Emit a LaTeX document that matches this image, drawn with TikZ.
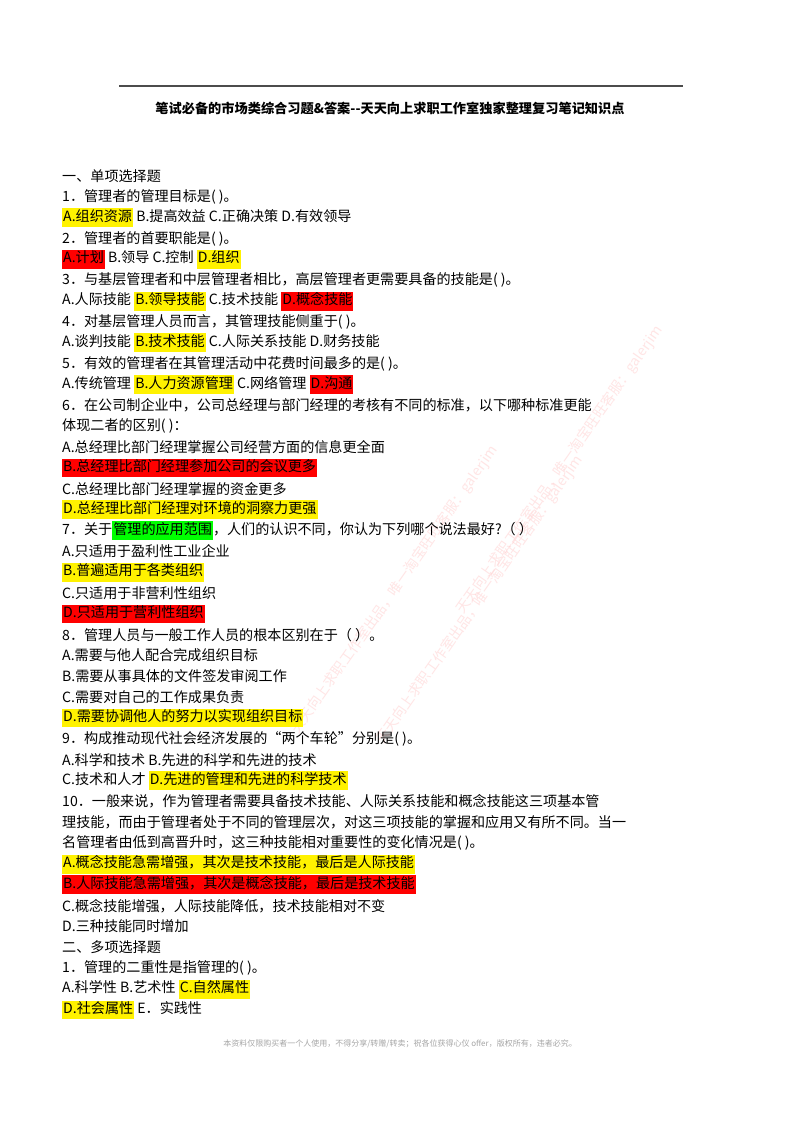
\documentclass[tikz,border=0pt]{standalone}
\usepackage{fontspec}
\setmainfont{Liberation Serif}
\newfontfamily\cjk{Noto Sans CJK SC}
\newcommand\hly[1]{{\setlength\fboxsep{1pt}\colorbox{yellow}{\strut #1}}}
\newcommand\hlr[1]{{\setlength\fboxsep{1pt}\colorbox{red}{\strut #1}}}
\newcommand\hlg[1]{{\setlength\fboxsep{1pt}\colorbox{green}{\strut #1}}}
\tikzset{
  txt/.style={anchor=west, inner sep=0pt, font=\cjk\fontsize{14.1}{16}\selectfont},
  wmark/.style={rotate=55, text=red!20, opacity=0.5, inner sep=0pt, font=\cjk\fontsize{14}{16}\selectfont}
}
\begin{document}
\begin{tikzpicture}[x=1pt, y=-1pt]
		\useasboundingbox (0,0) rectangle (800,1132);
		\fill[white] (0,0) rectangle (800,1132);
		% watermark
		\node[wmark] (wm1) at (395,590) {天天向上求职工作室出品，唯一淘宝旺旺客服：galerjim};
		\node[wmark] (wm2) at (480,600) {天天向上求职工作室出品，唯一淘宝旺旺客服：galerjim};
		\node[wmark] (wm3) at (560,470) {天天向上求职工作室出品，唯一淘宝旺旺客服：galerjim};
		% header
		\coordinate (ruleL) at (119,86);
		\coordinate (ruleR) at (683,86);
		\draw[line width=1.2pt, black!70] (ruleL) -- (ruleR);
		\node[font=\cjk\bfseries\fontsize{13.2}{15}\selectfont, inner sep=0pt] (title) at (390,108) {笔试必备的市场类综合习题\&答案--天天向上求职工作室独家整理复习笔记知识点};
		% questions
		\node[txt] (l1) at (62,176) {一、单项选择题};
		\node[txt] (l2) at (62,196.9) {1．管理者的管理目标是( )。};
		\node[txt] (l3) at (62,217.7) {\hly{A.组织资源} B.提高效益 C.正确决策 D.有效领导};
		\node[txt] (l4) at (62,238.6) {2．管理者的首要职能是( )。};
		\node[txt] (l5) at (62,259.4) {\hlr{A.计划} B.领导 C.控制 \hly{D.组织}};
		\node[txt] (l6) at (62,280.3) {3．与基层管理者和中层管理者相比，高层管理者更需要具备的技能是( )。};
		\node[txt] (l7) at (62,301.1) {A.人际技能 \hly{B.领导技能} C.技术技能 \hlr{D.概念技能}};
		\node[txt] (l8) at (62,322) {4．对基层管理人员而言，其管理技能侧重于( )。};
		\node[txt] (l9) at (62,342.8) {A.谈判技能 \hly{B.技术技能} C.人际关系技能 D.财务技能};
		\node[txt] (l10) at (62,363.7) {5．有效的管理者在其管理活动中花费时间最多的是( )。};
		\node[txt] (l11) at (62,384.5) {A.传统管理 \hly{B.人力资源管理} C.网络管理 \hlr{D.沟通}};
		\node[txt] (l12) at (62,405.4) {6．在公司制企业中，公司总经理与部门经理的考核有不同的标准，以下哪种标准更能};
		\node[txt] (l13) at (62,426.2) {体现二者的区别( )：};
		\node[txt] (l14) at (62,447.1) {A.总经理比部门经理掌握公司经营方面的信息更全面};
		\node[txt] (l15) at (62,467.9) {\hlr{B.总经理比部门经理参加公司的会议更多}};
		\node[txt] (l16) at (62,488.8) {C.总经理比部门经理掌握的资金更多};
		\node[txt] (l17) at (62,509.6) {\hly{D.总经理比部门经理对环境的洞察力更强}};
		\node[txt] (l18) at (62,530.5) {7．关于\hlg{管理的应用范围}，人们的认识不同，你认为下列哪个说法最好?（ ）};
		\node[txt] (l19) at (62,551.3) {A.只适用于盈利性工业企业};
		\node[txt] (l20) at (62,572.2) {\hly{B.普遍适用于各类组织}};
		\node[txt] (l21) at (62,593) {C.只适用于非营利性组织};
		\node[txt] (l22) at (62,613.9) {\hlr{D.只适用于营利性组织}};
		\node[txt] (l23) at (62,634.7) {8．管理人员与一般工作人员的根本区别在于（ ）。};
		\node[txt] (l24) at (62,655.6) {A.需要与他人配合完成组织目标};
		\node[txt] (l25) at (62,676.4) {B.需要从事具体的文件签发审阅工作};
		\node[txt] (l26) at (62,697.3) {C.需要对自己的工作成果负责};
		\node[txt] (l27) at (62,718.1) {\hly{D.需要协调他人的努力以实现组织目标}};
		\node[txt] (l28) at (62,739) {9．构成推动现代社会经济发展的“两个车轮”分别是( )。};
		\node[txt] (l29) at (62,759.8) {A.科学和技术 B.先进的科学和先进的技术};
		\node[txt] (l30) at (62,780.7) {C.技术和人才 \hly{D.先进的管理和先进的科学技术}};
		\node[txt] (l31) at (62,801.5) {10．一般来说，作为管理者需要具备技术技能、人际关系技能和概念技能这三项基本管};
		\node[txt] (l32) at (62,822.4) {理技能，而由于管理者处于不同的管理层次，对这三项技能的掌握和应用又有所不同。当一};
		\node[txt] (l33) at (62,843.2) {名管理者由低到高晋升时，这三种技能相对重要性的变化情况是( )。};
		\node[txt] (l34) at (62,864.1) {\hly{A.概念技能急需增强，其次是技术技能，最后是人际技能}};
		\node[txt] (l35) at (62,884.9) {\hlr{B.人际技能急需增强，其次是概念技能，最后是技术技能}};
		\node[txt] (l36) at (62,905.8) {C.概念技能增强，人际技能降低，技术技能相对不变};
		\node[txt] (l37) at (62,926.6) {D.三种技能同时增加};
		\node[txt] (l38) at (62,947.5) {二、多项选择题};
		\node[txt] (l39) at (62,968.3) {1．管理的二重性是指管理的( )。};
		\node[txt] (l40) at (62,989.2) {A.科学性 B.艺术性 \hly{C.自然属性}};
		\node[txt] (l41) at (62,1010) {\hly{D.社会属性} E．实践性};
		% footer
		\node[font=\cjk\fontsize{8}{10}\selectfont, text=black!35, inner sep=0pt] (foot) at (400,1044) {本资料仅限购买者一个人使用，不得分享/转赠/转卖；祝各位获得心仪 offer，版权所有，违者必究。};
\end{tikzpicture}
\end{document}
